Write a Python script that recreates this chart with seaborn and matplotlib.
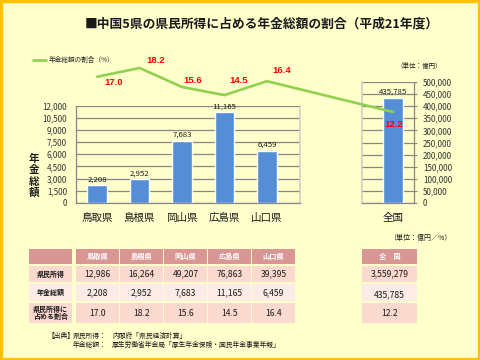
import matplotlib
matplotlib.use('Agg')
import matplotlib.pyplot as plt
from matplotlib.patches import Rectangle
from matplotlib.ticker import FuncFormatter, MultipleLocator
import pandas as pd
import seaborn as sns

# ---------------- data ----------------
prefectures = ['鳥取県', '島根県', '岡山県', '広島県', '山口県']
national_label = '全国'
income = [12986, 16264, 49207, 76863, 39395]          # 県民所得 (億円)
pension = [2208, 2952, 7683, 11165, 6459]             # 年金総額 (億円)
share = [17.0, 18.2, 15.6, 14.5, 16.4]                # 割合 (%)
national_income = [3559279]
national_pension = [435785]
national_share = [12.2]

title = '■中国5県の県民所得に占める年金総額の割合（平成21年度）'
line_label = '年金総額の割合（%）'
ylabel = '年金総額'
unit_chart = '（単位：億円）'
unit_table = '（単位：億円／%）'
row_labels = ['県民所得', '年金総額', '県民所得に\n占める割合']
national_header = '全　国'
source_lines = [('【出典】', '県民所得：', '内閣府「県民経済計算」'),
                ('', '年金総額：', '厚生労働省年金局「厚生年金保険・国民年金事業年報」')]

# ---------------- style ----------------
sns.set_style('white')
plt.rcParams['font.family'] = ['Noto Sans CJK JP', 'DejaVu Sans']
BG = '#FFFFCC'
BORDER = '#FFC000'
BAR = '#558ED5'
LINE = '#92D050'
GRID = '#868686'
LIGHT = '#D0D0C0'
TXT = '#1A1A1A'

W, H = 480, 360
fig = plt.figure(figsize=(W / 100, H / 100), dpi=100)
fig.patch.set_facecolor(BG)


def frect(x0, y0, x1, y1):
    return [x0 / W, 1 - y1 / H, (x1 - x0) / W, (y1 - y0) / H]


comma = FuncFormatter(lambda v, p: f'{int(v):,}')

# background layer (table, texts)
ax_bg = fig.add_axes([0, 0, 1, 1], zorder=0)
ax_bg.set_xlim(0, W)
ax_bg.set_ylim(H, 0)
ax_bg.axis('off')

# ---------------- left bar chart ----------------
ax_l = fig.add_axes(frect(76, 105.5, 300, 203), zorder=1)
ax_l.patch.set_alpha(0)
df_l = pd.DataFrame({'県': prefectures, '年金総額': pension})
sns.barplot(data=df_l, x='県', y='年金総額', color=BAR, saturation=1,
            width=0.46, ax=ax_l, zorder=3)
ax_l.set_xlim(-0.5, 4.78)
ax_l.set_ylim(0, 12000)
ax_l.yaxis.set_major_locator(MultipleLocator(1500))
ax_l.yaxis.set_major_formatter(comma)
ax_l.grid(axis='y', color=GRID, lw=0.9, zorder=0)
ax_l.set_axisbelow(True)
ax_l.set_xlabel('')
ax_l.set_ylabel('')
for s in ['left', 'bottom']:
    ax_l.spines[s].set_color(GRID)
    ax_l.spines[s].set_linewidth(0.9)
ax_l.spines['right'].set_color(LIGHT)
ax_l.spines['right'].set_linewidth(1.2)
ax_l.spines['top'].set_visible(False)
ax_l.set_xticks(range(len(prefectures)))
ax_l.set_xticklabels(prefectures)
ax_l.set_xticks([i - 0.5 for i in range(len(prefectures) + 1)], minor=True)
ax_l.tick_params(axis='x', which='major', length=0, pad=7, labelsize=7.6, labelcolor=TXT)
ax_l.tick_params(axis='x', which='minor', length=3, width=0.8, color=GRID, direction='out')
ax_l.tick_params(axis='y', length=2.5, width=0.8, color=GRID, direction='out',
                 pad=4, labelsize=5.8, labelcolor='#333333')
ax_l.bar_label(ax_l.containers[0], labels=[f'{v:,}' for v in pension],
               padding=1.2, fontsize=5.6, color=TXT)

# ---------------- right bar chart (全国) ----------------
ax_r = fig.add_axes(frect(362, 82, 414, 203), zorder=1)
ax_r.patch.set_alpha(0)
df_r = pd.DataFrame({'県': [national_label], '年金総額': national_pension})
sns.barplot(data=df_r, x='県', y='年金総額', color=BAR, saturation=1,
            width=0.47, ax=ax_r, zorder=3)
ax_r.set_xlim(-0.738, 0.5)
ax_r.set_ylim(0, 500000)
ax_r.yaxis.set_major_locator(MultipleLocator(50000))
ax_r.yaxis.set_major_formatter(comma)
ax_r.yaxis.tick_right()
ax_r.grid(axis='y', color=GRID, lw=0.9, zorder=0)
ax_r.set_axisbelow(True)
ax_r.set_xlabel('')
ax_r.set_ylabel('')
for s in ['right', 'bottom']:
    ax_r.spines[s].set_color(GRID)
    ax_r.spines[s].set_linewidth(0.9)
ax_r.spines['left'].set_color(LIGHT)
ax_r.spines['left'].set_linewidth(1.2)
ax_r.spines['top'].set_visible(False)
ax_r.set_xticks([0])
ax_r.set_xticklabels([national_label])
ax_r.set_xticks([-0.5, 0.5], minor=True)
ax_r.tick_params(axis='x', which='major', length=0, pad=7, labelsize=7.6, labelcolor=TXT)
ax_r.tick_params(axis='x', which='minor', length=3, width=0.8, color=GRID, direction='out')
ax_r.tick_params(axis='y', length=2.5, width=0.8, color=GRID, direction='out',
                 pad=4, labelsize=5.8, labelcolor='#333333')
ax_r.bar_label(ax_r.containers[0], labels=[f'{v:,}' for v in national_pension],
               padding=1.2, fontsize=5.6, color=TXT)

# ---------------- line overlay ----------------
ax_line = fig.add_axes([0, 0, 1, 1], zorder=5)
ax_line.patch.set_alpha(0)
ax_line.set_xlim(0, 1)
ax_line.set_ylim(-21.62, 27.47)
ax_line.axis('off')


def fig_x(ax, xv):
    disp = ax.transData.transform((xv, 0))
    return fig.transFigure.inverted().transform(disp)[0]


line_x = [fig_x(ax_l, i) for i in range(len(prefectures))] + [fig_x(ax_r, 0)]
line_y = share + national_share
sns.lineplot(x=line_x, y=line_y, ax=ax_line, color=LINE, lw=1.9,
             label=line_label, sort=False)
ax_line.legend(loc='center left', bbox_to_anchor=(33 / W, 1 - 60 / H),
               bbox_transform=fig.transFigure, frameon=False, fontsize=4.8,
               handlelength=2.0, handletextpad=0.3, borderpad=0, borderaxespad=0)
label_offsets_px = [(16, 6), (16, -7), (11, -7), (14, -15), (15, -11), (1, 13)]
for xv, yv, (dx, dy) in zip(line_x, line_y, label_offsets_px):
    ax_line.annotate(f'{yv:.1f}', (xv, yv), xytext=(dx * 0.72, -dy * 0.72),
                     textcoords='offset points', ha='center', va='center',
                     color='#FF0000', fontsize=6.8, fontweight='bold',
                     family=['Liberation Sans', 'DejaVu Sans'])

# ---------------- texts ----------------
ax_bg.text(262, 24, title, ha='center', va='center', fontsize=9.2,
           fontweight='bold', color=TXT)
ax_bg.text(34, 176, '\n'.join(ylabel), ha='center', va='center', fontsize=7.6,
           fontweight='bold', color=TXT, linespacing=1.15)
ax_bg.text(442, 66, unit_chart, ha='right', va='center', fontsize=4.7, color=TXT)
ax_bg.text(452, 238, unit_table, ha='right', va='center', fontsize=5.0, color=TXT)

# ---------------- table ----------------
HEAD = '#D99694'
ROWC = ['#FAD9CF', '#FCEBE6', '#FAD9CF']
col_lefts = [29, 76, 120, 164, 208, 252]
col_w = 43
nat_left, nat_w = 362, 55
row_tops = [249, 266, 284, 303]
row_bots = [264, 282, 301, 323]

table_rows = [
    [f'{v:,}' for v in income],
    [f'{v:,}' for v in pension],
    [f'{v:.1f}' for v in share],
]
nat_rows = [f'{national_income[0]:,}', f'{national_pension[0]:,}', f'{national_share[0]:.1f}']
headers = [''] + prefectures

for r in range(4):
    top, bot = row_tops[r], row_bots[r]
    cy = (top + bot) / 2
    color = HEAD if r == 0 else ROWC[r - 1]
    for c, xl in enumerate(col_lefts):
        ax_bg.add_patch(Rectangle((xl, top), col_w, bot - top, facecolor=color,
                                  edgecolor='none'))
        cx = xl + col_w / 2
        if r == 0:
            ax_bg.text(cx, cy, headers[c], ha='center', va='center', fontsize=5.2,
                       fontweight='bold', color='white')
        elif c == 0:
            ax_bg.text(cx, cy, row_labels[r - 1], ha='center', va='center',
                       fontsize=5.0, fontweight='bold', color=TXT, linespacing=1.0)
        else:
            ax_bg.text(cx, cy, table_rows[r - 1][c - 1], ha='center', va='center',
                       fontsize=6.2, color=TXT)
    ax_bg.add_patch(Rectangle((nat_left, top), nat_w, bot - top, facecolor=color,
                              edgecolor='none'))
    ncx = nat_left + nat_w / 2
    if r == 0:
        ax_bg.text(ncx, cy, national_header, ha='center', va='center', fontsize=5.2,
                   fontweight='bold', color='white')
    else:
        ax_bg.text(ncx, cy + (2 if r == 2 else 0), nat_rows[r - 1], ha='center',
                   va='center', fontsize=6.2, color=TXT)

# source
for i, (a, b, c) in enumerate(source_lines):
    yy = 336 + i * 8.5
    if a:
        ax_bg.text(48, yy, a, ha='left', va='center', fontsize=4.9, color=TXT)
    ax_bg.text(73, yy, b, ha='left', va='center', fontsize=4.9, color=TXT)
    ax_bg.text(112, yy, c, ha='left', va='center', fontsize=4.9, color=TXT)

# border
fig.add_artist(Rectangle((0, 0), 1, 1, transform=fig.transFigure, fill=False,
                         edgecolor=BORDER, linewidth=3.8, zorder=10))

fig.savefig('out.png', dpi=100, facecolor=BG)
